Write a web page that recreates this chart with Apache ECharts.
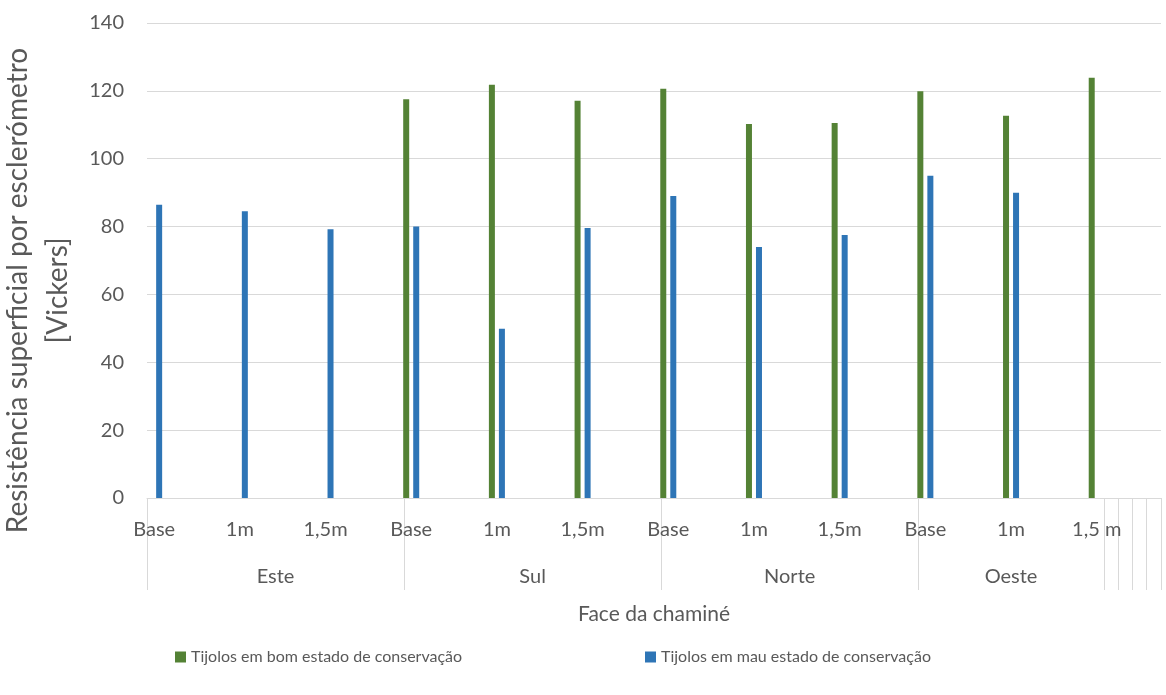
<!DOCTYPE html>
<html>
<head>
<meta charset="utf-8">
<script src="https://cdn.jsdelivr.net/npm/echarts@6/dist/echarts.min.js"></script>
<style>html,body{margin:0;padding:0;background:#fff}#c{width:1166px;height:695px}</style>
</head>
<body>
<div id="c"></div>
<script>
// ---- data ----
const faces = ['Este', 'Sul', 'Norte', 'Oeste'];
const labelsEste = ['Base', '1m', '1,5m'];
const labelsSul = ['Base', '1m', '1,5m'];
const labelsNorte = ['Base', '1m', '1,5m'];
const labelsOeste = ['Base', '1m', '1,5 m'];
const goodEste = [null, null, null];
const goodSul = [117.5, 121.8, 117.1];
const goodNorte = [120.6, 110.2, 110.5];
const goodOeste = [119.9, 112.7, 123.9];
const badEste = [86.4, 84.5, 79.2];
const badSul = [80.0, 49.9, 79.6];
const badNorte = [89.0, 74.0, 77.5];
const badOeste = [95.0, 90.0, null];
const yTicks = [0, 20, 40, 60, 80, 100, 120, 140];
const seriesNames = ['Tijolos em bom estado de conservação', 'Tijolos em mau estado de conservação'];
const slotsPerPosition = 6;   // each labelled row is followed by empty rows in the sheet
const trailingEmptyGroups = 4;

// ---- build category table ----
const faceLabels = [labelsEste, labelsSul, labelsNorte, labelsOeste];
const faceGood = [goodEste, goodSul, goodNorte, goodOeste];
const faceBad = [badEste, badSul, badNorte, badOeste];
const catLabels = [], good = [], bad = [];
const groupSizes = [], groupNames = [];
faces.forEach((f, fi) => {
  let size = 0;
  faceLabels[fi].forEach((lab, pi) => {
    const last = (fi === faces.length - 1) && (pi === faceLabels[fi].length - 1);
    const n = last ? 1 : slotsPerPosition;
    for (let k = 0; k < n; k++) {
      catLabels.push(k === 0 ? lab : '');
      const g = faceGood[fi][pi], b = faceBad[fi][pi];
      good.push(k === 0 && g != null ? g : '-');
      bad.push(k === 0 && b != null ? b : '-');
    }
    size += n;
  });
  groupSizes.push(size); groupNames.push(f);
});
for (let t = 0; t < trailingEmptyGroups; t++) {
  catLabels.push(''); good.push('-'); bad.push('-');
  groupSizes.push(1); groupNames.push('');
}
const nCat = catLabels.length;
const catIds = catLabels.map((_, i) => 'c' + i);
// half-unit points for outer level (boundaries and centres)
const halfIds = [];
for (let i = 0; i <= nCat * 2; i++) halfIds.push('h' + i);
const sepSet = new Set([0]);
const centreMap = {};
let acc = 0;
groupSizes.forEach((s, gi) => {
  centreMap[acc * 2 + s] = groupNames[gi];
  acc += s;
  sepSet.add(acc * 2);
});

const FONT = 'Lato, "Open Sans", sans-serif';
const TXT = '#595959';
const GRID = '#d9d9d9';

const chart = echarts.init(document.getElementById('c'));
chart.setOption({
  animation: false,
  grid: { left: 147, right: 5, top: 23, bottom: 197, containLabel: false, outerBoundsMode: 'none' },
  legend: [
    { data: [seriesNames[0]], left: 175, top: 649, padding: 0, itemWidth: 11, itemHeight: 11, itemGap: 0,
      textStyle: { fontFamily: FONT, fontSize: 16, color: TXT }, icon: 'rect', selectedMode: false },
    { data: [seriesNames[1]], left: 645, top: 649, padding: 0, itemWidth: 11, itemHeight: 11, itemGap: 0,
      textStyle: { fontFamily: FONT, fontSize: 16, color: TXT }, icon: 'rect', selectedMode: false }
  ],
  xAxis: [
    {
      type: 'category', data: catIds, position: 'bottom',
      axisLine: { lineStyle: { color: GRID, width: 1 } },
      axisTick: { show: false },
      axisLabel: {
        interval: (i) => catLabels[i] !== '',
        formatter: (v, i) => catLabels[i],
        fontFamily: FONT, fontSize: 20, color: TXT, margin: 22
      },
      name: 'Face da chaminé', nameLocation: 'middle', nameGap: 106,
      nameTextStyle: { fontFamily: FONT, fontSize: 21, color: TXT }
    },
    {
      type: 'category', data: halfIds, position: 'bottom', boundaryGap: false,
      axisLine: { show: false },
      axisTick: { show: true, length: 92, interval: (i) => sepSet.has(i), lineStyle: { color: GRID, width: 1 } },
      axisLabel: {
        interval: (i) => centreMap[i] !== undefined,
        formatter: (v, i) => centreMap[i] || '',
        fontFamily: FONT, fontSize: 20, color: TXT, margin: 69
      }
    }
  ],
  yAxis: {
    type: 'value', min: yTicks[0], max: yTicks[yTicks.length - 1], interval: yTicks[1] - yTicks[0],
    axisLine: { show: false }, axisTick: { show: false },
    splitLine: { lineStyle: { color: GRID, width: 1 } },
    axisLabel: { fontFamily: FONT, fontSize: 20, color: TXT, margin: 23 },
    name: 'Resistência superficial por esclerómetro\n[Vickers]',
    nameLocation: 'middle', nameRotate: 90, nameGap: 54,
    nameTextStyle: { fontFamily: FONT, fontSize: 28, color: TXT, lineHeight: 40, align: 'center', padding: [0, 60, 0, 0] }
  },
  series: [
    { name: seriesNames[0], type: 'bar', data: good, barWidth: 6, barGap: '67%',
      itemStyle: { color: '#548235' } },
    { name: seriesNames[1], type: 'bar', data: bad, barWidth: 6, barGap: '67%',
      itemStyle: { color: '#2E75B6' } }
  ]
});
</script>
</body>
</html>
